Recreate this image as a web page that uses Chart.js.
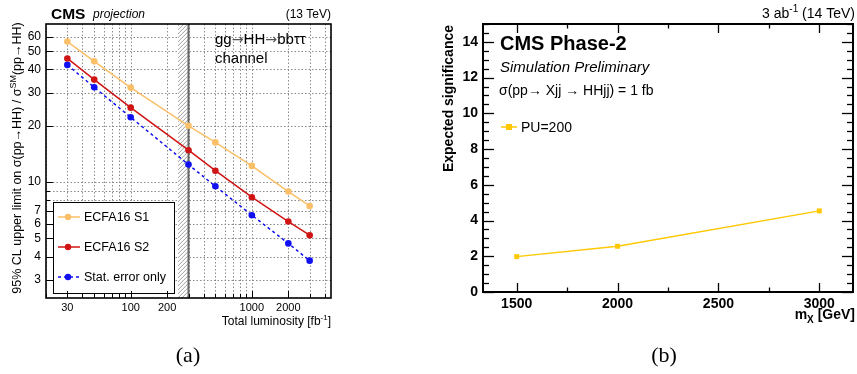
<!DOCTYPE html>
<html>
<head>
<meta charset="utf-8">
<script src="https://cdn.jsdelivr.net/npm/chart.js@4.4.1/dist/chart.umd.min.js"></script>
<style>
  html, body { margin: 0; padding: 0; background: #fff; }
  body { width: 857px; height: 374px; position: relative; overflow: hidden; }
  #chart-a { position: absolute; left: 0; top: 0; }
  #chart-b { position: absolute; left: 420px; top: 0; }
</style>
</head>
<body>
<canvas id="chart-a" width="420" height="374"></canvas>
<canvas id="chart-b" width="437" height="374"></canvas>
<script>
// panel (a): gg -> HH -> bbtautau limit vs luminosity
let lumi = [30, 50, 100, 300, 500, 1000, 2000, 3000];
let limitS1 = [56.4, 44.2, 32.0, 20.0, 16.3, 12.2, 8.9, 7.45];
let limitS2 = [45.8, 35.3, 25.0, 14.8, 11.5, 8.3, 6.15, 5.2];
let limitStat = [42.3, 32.1, 22.2, 12.4, 9.5, 6.65, 4.7, 3.8];
let lumiGrid = [20, 30, 40, 50, 60, 70, 80, 90, 100, 200, 300, 400, 500, 600, 700, 800, 900, 1000, 2000, 3000, 4000];
let lumiTickLabels = [30, 100, 200, 1000, 2000];
let limitGrid = [3, 4, 5, 6, 7, 8, 9, 10, 20, 30, 40, 50, 60];
let limitTickLabels = [3, 4, 5, 6, 7, 10, 20, 30, 40, 50, 60];
let lumiCollected = [245, 300];   // hatched band, edge line at 300 fb-1

// panel (b): X -> HH significance vs mass
let massX = [1500, 2000, 3000];
let significance = [1.98, 2.56, 4.54];
let massTicks = [1500, 2000, 2500, 3000];
let signifTicks = [0, 2, 4, 6, 8, 10, 12, 14];

const SANS = '"Liberation Sans", Arial, Helvetica, sans-serif';
const SERIF = '"Liberation Serif", "Times New Roman", serif';
const ARROW_FONT = '"DejaVu Sans", sans-serif';

const colS1 = '#fbbf68';
const colS2 = '#d01414';
const colStat = '#1010f0';
const colPU = '#ffc800';

// draws text with superscript / subscript pieces: parts are strings or {sup:..} / {sub:..}
function richText(ctx, parts, x, y, align, size, weight, style) {
    let big = (style || '') + ' ' + (weight || '') + ' ' + size + 'px ' + SANS;
    let small = (style || '') + ' ' + (weight || '') + ' ' + Math.round(size * 0.7) + 'px ' + SANS;
    let widths = parts.map(function (p) {
        ctx.font = typeof p === 'string' ? big : small;
        return ctx.measureText(typeof p === 'string' ? p : (p.sup || p.sub)).width;
    });
    let total = widths.reduce(function (a, b) { return a + b; }, 0);
    let cx = align === 'right' ? x - total : (align === 'center' ? x - total / 2 : x);
    ctx.textAlign = 'left';
    ctx.textBaseline = 'alphabetic';
    parts.forEach(function (p, i) {
        if (typeof p === 'string') {
            ctx.font = big;
            ctx.fillText(p, cx, y);
        } else {
            ctx.font = small;
            ctx.fillText(p.sup || p.sub, cx, p.sup ? y - size * 0.42 : y + size * 0.25);
        }
        cx += widths[i];
    });
}

// text where the arrows come from DejaVu (long, thin arrow like ROOT's)
function arrowText(ctx, pieces, x, y, size) {
    let cx = x;
    ctx.textAlign = 'left';
    pieces.forEach(function (p) {
        ctx.font = p === '\u2192' ? (size * 0.95) + 'px ' + ARROW_FONT : size + 'px ' + SANS;
        ctx.fillStyle = p === '\u2192' ? '#555' : '#000';
        ctx.fillText(p, cx, y);
        cx += ctx.measureText(p).width;
    });
    ctx.fillStyle = '#000';
}

function seg(ctx, x1, y1, x2, y2) {
    ctx.beginPath();
    ctx.moveTo(x1, y1);
    ctx.lineTo(x2, y2);
    ctx.stroke();
}

function xy(xs, ys) {
    return xs.map(function (v, i) { return {x: v, y: ys[i]}; });
}

// ---------- panel (a) ----------
const panelA = {
    id: 'panelA',
    beforeDatasetsDraw(chart) {
        let ctx = chart.ctx, a = chart.chartArea, x = chart.scales.x, y = chart.scales.y;
        ctx.save();
        ctx.strokeStyle = '#8a8a8a';
        ctx.lineWidth = 1;
        ctx.setLineDash([1.5, 2]);
        lumiGrid.forEach(function (v) {
            let px = Math.round(x.getPixelForValue(v)) + 0.5;
            seg(ctx, px, a.top, px, a.bottom);
        });
        limitGrid.forEach(function (v) {
            let py = Math.round(y.getPixelForValue(v)) + 0.5;
            seg(ctx, a.left, py, a.right, py);
        });
        ctx.setLineDash([]);

        // hatched band
        let x1 = x.getPixelForValue(lumiCollected[0]);
        let x2 = x.getPixelForValue(lumiCollected[1]);
        ctx.fillStyle = '#fff';
        ctx.fillRect(x1, a.top, x2 - x1, a.bottom - a.top);
        ctx.save();
        ctx.beginPath();
        ctx.rect(x1, a.top, x2 - x1, a.bottom - a.top);
        ctx.clip();
        ctx.strokeStyle = '#888';
        ctx.lineWidth = 0.8;
        for (let k = a.bottom + 20; k > a.top - 20; k -= 4) {
            seg(ctx, x1, k, x2, k - (x2 - x1));
        }
        ctx.restore();
        ctx.strokeStyle = '#666';
        ctx.lineWidth = 2;
        seg(ctx, x2, a.top, x2, a.bottom);
        ctx.restore();
    },
    afterDatasetsDraw(chart) {
        let ctx = chart.ctx;
        ctx.save();
        // legend box
        ctx.fillStyle = '#fff';
        ctx.fillRect(53, 202, 121, 91);
        ctx.strokeStyle = '#000';
        ctx.lineWidth = 1;
        ctx.strokeRect(53.5, 202.5, 121, 91);
        let entries = [
            ['ECFA16 S1', colS1, []],
            ['ECFA16 S2', colS2, []],
            ['Stat. error only', colStat, [3, 3]]
        ];
        entries.forEach(function (e, i) {
            let ly = 217 + i * 30;
            ctx.strokeStyle = e[1];
            ctx.lineWidth = 1.5;
            ctx.setLineDash(e[2]);
            seg(ctx, 58, ly, 80, ly);
            ctx.setLineDash([]);
            ctx.fillStyle = e[1];
            ctx.beginPath();
            ctx.arc(68, ly, 3.2, 0, Math.PI * 2);
            ctx.fill();
            ctx.fillStyle = '#000';
            ctx.font = '12.5px ' + SANS;
            ctx.textAlign = 'left';
            ctx.textBaseline = 'middle';
            ctx.fillText(e[0], 84, ly + 1);
        });
        ctx.restore();
    },
    afterDraw(chart) {
        let ctx = chart.ctx, a = chart.chartArea, x = chart.scales.x, y = chart.scales.y;
        ctx.save();
        // inside ticks
        ctx.strokeStyle = '#000';
        ctx.lineWidth = 1;
        lumiGrid.forEach(function (v) {
            let px = Math.round(x.getPixelForValue(v)) + 0.5;
            seg(ctx, px, a.bottom, px, a.bottom - (lumiTickLabels.includes(v) ? 7 : 4));
        });
        limitGrid.forEach(function (v) {
            let py = Math.round(y.getPixelForValue(v)) + 0.5;
            seg(ctx, a.left, py, a.left + (limitTickLabels.includes(v) ? 7 : 4), py);
        });
        // frame
        ctx.lineWidth = 1.6;
        ctx.strokeRect(a.left, a.top, a.right - a.left, a.bottom - a.top);

        ctx.fillStyle = '#000';
        ctx.font = 'bold 15.5px ' + SANS;
        ctx.textAlign = 'left';
        ctx.textBaseline = 'alphabetic';
        ctx.fillText('CMS', 51, 19);
        ctx.font = 'italic 12px ' + SANS;
        ctx.fillText('projection', 93, 18);
        ctx.font = '12px ' + SANS;
        ctx.textAlign = 'right';
        ctx.fillText('(13 TeV)', 331, 18);

        arrowText(ctx, ['gg', '\u2192', 'HH', '\u2192', 'bb\u03c4\u03c4'], 215, 44, 15);
        ctx.font = '15px ' + SANS;
        ctx.fillText('channel', 215, 63);

        richText(ctx, ['Total luminosity [fb', {sup: '-1'}, ']'], 331, 325, 'right', 12);

        ctx.save();
        ctx.translate(21, 158);
        ctx.rotate(-Math.PI / 2);
        richText(ctx, ['95% CL upper limit on \u03c3(pp\u2192HH) / \u03c3', {sup: 'SM'}, '(pp\u2192HH)'], 0, 0, 'center', 12.5);
        ctx.restore();

        ctx.font = '22px ' + SERIF;
        ctx.textAlign = 'center';
        ctx.fillText('(a)', 188, 362);
        ctx.restore();
    }
};

new Chart(document.getElementById('chart-a'), {
    type: 'line',
    data: {
        datasets: [
            {label: 'ECFA16 S1', data: xy(lumi, limitS1), borderColor: colS1, backgroundColor: colS1},
            {label: 'ECFA16 S2', data: xy(lumi, limitS2), borderColor: colS2, backgroundColor: colS2},
            {label: 'Stat. error only', data: xy(lumi, limitStat), borderColor: colStat, backgroundColor: colStat, borderDash: [3, 3]}
        ]
    },
    options: {
        responsive: false,
        animation: false,
        devicePixelRatio: 1,
        layout: {padding: {top: 24, right: 89, left: 0, bottom: 0}},
        elements: {
            line: {borderWidth: 1.5, tension: 0},
            point: {radius: 3.3, borderWidth: 0, pointStyle: 'circle'}
        },
        plugins: {legend: {display: false}, tooltip: {enabled: false}},
        scales: {
            x: {
                type: 'logarithmic', min: 20, max: 4500,
                grid: {display: false, drawTicks: false, tickLength: 0}, border: {display: false},
                afterBuildTicks: function (s) { s.ticks = lumiGrid.map(function (v) { return {value: v}; }); },
                afterFit: function (s) { s.height = 76; },
                ticks: {
                    autoSkip: false, maxRotation: 0, padding: 3, color: '#000',
                    font: {family: SANS, size: 11},
                    callback: function (v) { return lumiTickLabels.includes(v) ? String(v) : ''; }
                }
            },
            y: {
                type: 'logarithmic', min: 2.4, max: 70,
                grid: {display: false, drawTicks: false, tickLength: 0}, border: {display: false},
                afterBuildTicks: function (s) { s.ticks = limitGrid.map(function (v) { return {value: v}; }); },
                afterFit: function (s) { s.width = 46; },
                ticks: {
                    autoSkip: false, padding: 5, color: '#000',
                    font: {family: SANS, size: 12},
                    callback: function (v) { return limitTickLabels.includes(v) ? String(v) : ''; }
                }
            }
        }
    },
    plugins: [panelA]
});

// ---------- panel (b) ----------
const panelB = {
    id: 'panelB',
    afterDraw(chart) {
        let ctx = chart.ctx, a = chart.chartArea, x = chart.scales.x, y = chart.scales.y;
        ctx.save();
        ctx.strokeStyle = '#000';
        ctx.lineWidth = 1.3;
        for (let v = 0; v <= 15; v += 0.5) {
            let py = Math.round(y.getPixelForValue(v)) + 0.5;
            let len = v % 2 === 0 ? 11 : 6;
            seg(ctx, a.left, py, a.left + len, py);
            seg(ctx, a.right, py, a.right - len, py);
        }
        for (let v = 1250; v <= 3250; v += 250) {
            if (v < x.min || v > x.max) continue;
            let px = Math.round(x.getPixelForValue(v)) + 0.5;
            let len = v % 500 === 0 ? 9 : 4.5;
            seg(ctx, px, a.bottom, px, a.bottom - len);
            seg(ctx, px, a.top, px, a.top + len);
        }
        ctx.lineWidth = 2;
        ctx.strokeRect(a.left, a.top, a.right - a.left, a.bottom - a.top);

        ctx.fillStyle = '#000';
        ctx.textBaseline = 'alphabetic';
        ctx.textAlign = 'left';
        ctx.font = 'bold 20px ' + SANS;
        ctx.fillText('CMS Phase-2', 80, 50);
        ctx.font = 'italic 15px ' + SANS;
        ctx.fillText('Simulation Preliminary', 80, 72);
        ctx.font = '14px ' + SANS;
        ctx.fillText('\u03c3(pp\u2192 Xjj \u2192 HHjj) = 1 fb', 79, 95);

        // legend
        ctx.strokeStyle = colPU;
        ctx.lineWidth = 1.5;
        seg(ctx, 81, 127, 97, 127);
        ctx.fillStyle = colPU;
        ctx.fillRect(86, 124, 6, 6);
        ctx.fillStyle = '#000';
        ctx.font = '14px ' + SANS;
        ctx.fillText('PU=200', 101, 132);

        richText(ctx, ['3 ab', {sup: '-1'}, ' (14 TeV)'], 435, 18, 'right', 14);
        richText(ctx, ['m', {sub: 'X'}, ' [GeV]'], 435, 319, 'right', 14, 'bold');

        ctx.save();
        ctx.translate(33, 25);
        ctx.rotate(-Math.PI / 2);
        ctx.font = 'bold 14px ' + SANS;
        ctx.textAlign = 'right';
        ctx.fillText('Expected significance', 0, 0);
        ctx.restore();

        ctx.font = '22px ' + SERIF;
        ctx.textAlign = 'center';
        ctx.fillText('(b)', 244, 362);
        ctx.restore();
    }
};

new Chart(document.getElementById('chart-b'), {
    type: 'line',
    data: {
        datasets: [{
            label: 'PU=200',
            data: xy(massX, significance),
            borderColor: colPU,
            backgroundColor: colPU,
            borderWidth: 1.5,
            pointStyle: 'rect',
            pointRadius: 3.5,
            pointBorderWidth: 0,
            tension: 0
        }]
    },
    options: {
        responsive: false,
        animation: false,
        devicePixelRatio: 1,
        layout: {padding: {top: 24, right: 1, left: 0, bottom: 0}},
        plugins: {legend: {display: false}, tooltip: {enabled: false}},
        scales: {
            x: {
                type: 'linear', min: 1333, max: 3167,
                grid: {display: false, drawTicks: false, tickLength: 0}, border: {display: false},
                afterBuildTicks: function (s) { s.ticks = massTicks.map(function (v) { return {value: v}; }); },
                afterFit: function (s) { s.height = 82; },
                ticks: {
                    autoSkip: false, maxRotation: 0, padding: 4, color: '#000',
                    font: {family: SANS, size: 14, weight: 'bold'},
                    callback: function (v) { return String(v); }
                }
            },
            y: {
                type: 'linear', min: 0, max: 15,
                grid: {display: false, drawTicks: false, tickLength: 0}, border: {display: false},
                afterBuildTicks: function (s) { s.ticks = signifTicks.map(function (v) { return {value: v}; }); },
                afterFit: function (s) { s.width = 63; },
                ticks: {
                    autoSkip: false, padding: 5, color: '#000',
                    font: {family: SANS, size: 14, weight: 'bold'},
                    callback: function (v) { return String(v); }
                }
            }
        }
    },
    plugins: [panelB]
});
</script>
</body>
</html>
